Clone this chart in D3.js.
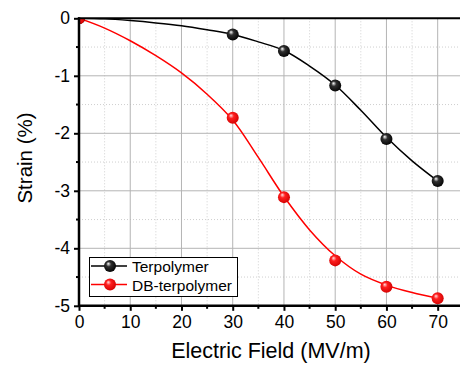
<!DOCTYPE html>
<html><head><meta charset="utf-8">
<script src="https://cdn.jsdelivr.net/npm/d3@7"></script>
<style>body{margin:0;background:#fff}svg{display:block}text{font-family:"Liberation Sans",Arial,sans-serif;fill:#000}</style>
</head><body>
<svg id="c" width="460" height="365"></svg>
<script>
const fieldX = [0, 30, 40, 50, 60, 70];
const terpolymer = [0, -0.28, -0.57, -1.17, -2.10, -2.83];
const dbTerpolymer = [0, -1.73, -3.11, -4.21, -4.67, -4.87];
const fitX = [0, 5, 10, 15, 20, 25, 30, 35, 40, 45, 50, 55, 60, 65, 70];
const terpFit = [0, -0.01, -0.04, -0.08, -0.13, -0.2, -0.28, -0.41, -0.56, -0.83, -1.16, -1.6, -2.07, -2.48, -2.83];
const dbFit = [0, -0.17, -0.39, -0.65, -0.95, -1.32, -1.77, -2.42, -3.1, -3.68, -4.13, -4.45, -4.64, -4.77, -4.87];
const xTicks = [0, 10, 20, 30, 40, 50, 60, 70];
const yTicks = [0, -1, -2, -3, -4, -5];
const seriesNames = ["Terpolymer", "DB-terpolymer"];

const svg = d3.select("#c");
const x = d3.scaleLinear().domain([0, 75]).range([79, 79 + 75 * 5.124]);
const y = d3.scaleLinear().domain([-5, 0]).range([305.8, 18.3]);
const L = 79, R = 462, T = 18.3, B = 305.8;

const defs = svg.append("defs");
function grad(id, c0, c1, c2) {
  const g = defs.append("radialGradient").attr("id", id).attr("cx", "45%").attr("cy", "45%").attr("r", "60%").attr("fx", "35%").attr("fy", "30%");
  g.append("stop").attr("offset", "0%").attr("stop-color", c0);
  g.append("stop").attr("offset", "35%").attr("stop-color", c1);
  g.append("stop").attr("offset", "100%").attr("stop-color", c2);
}
grad("gBlack", "#ffffff", "#303030", "#000000");
grad("gRed", "#ffe0e0", "#ff2020", "#d00000");
defs.append("clipPath").attr("id", "clip").append("rect").attr("x", L).attr("y", T).attr("width", R - L).attr("height", B - T);

// minor grid
const minorX = d3.range(5, 76, 10), minorY = d3.range(-4.5, 0, 1);
svg.append("g").selectAll("line").data(minorX).join("line")
  .attr("x1", d => x(d)).attr("x2", d => x(d)).attr("y1", T).attr("y2", B)
  .attr("stroke", "#cfcfcf").attr("stroke-dasharray", "1,2");
svg.append("g").selectAll("line").data(minorY).join("line")
  .attr("y1", d => y(d)).attr("y2", d => y(d)).attr("x1", L).attr("x2", R)
  .attr("stroke", "#cfcfcf").attr("stroke-dasharray", "1,2");
// major grid
svg.append("g").selectAll("line").data(xTicks.slice(1)).join("line")
  .attr("x1", d => x(d)).attr("x2", d => x(d)).attr("y1", T).attr("y2", B)
  .attr("stroke", "#b4b4b4").attr("stroke-width", 1);
svg.append("g").selectAll("line").data(yTicks.slice(1, -1)).join("line")
  .attr("y1", d => y(d)).attr("y2", d => y(d)).attr("x1", L).attr("x2", R)
  .attr("stroke", "#b4b4b4").attr("stroke-width", 1);

const plot = svg.append("g").attr("clip-path", "url(#clip)");
const line = d3.line().x(d => x(d[0])).y(d => y(d[1])).curve(d3.curveCatmullRom.alpha(0.5));
plot.append("path").datum(fitX.map((v, i) => [v, terpFit[i]])).attr("d", line)
  .attr("fill", "none").attr("stroke", "#000").attr("stroke-width", 1.5);
plot.append("path").datum(fitX.map((v, i) => [v, dbFit[i]])).attr("d", line)
  .attr("fill", "none").attr("stroke", "#ff0000").attr("stroke-width", 1.5);
plot.append("g").selectAll("circle").data(fieldX.map((v, i) => [v, terpolymer[i]])).join("circle")
  .attr("cx", d => x(d[0])).attr("cy", d => y(d[1])).attr("r", 6).attr("fill", "url(#gBlack)");
plot.append("g").selectAll("circle").data(fieldX.map((v, i) => [v, dbTerpolymer[i]])).join("circle")
  .attr("cx", d => x(d[0])).attr("cy", d => y(d[1])).attr("r", 6).attr("fill", "url(#gRed)");

// axes
const xAxis = svg.append("g").attr("transform", `translate(0,${B})`)
  .call(d3.axisBottom(x).tickValues(xTicks).tickSize(5).tickPadding(5).tickFormat(d3.format("d")));
const yAxis = svg.append("g").attr("transform", `translate(${L},0)`)
  .call(d3.axisLeft(y).tickValues(yTicks).tickSize(5).tickPadding(4).tickFormat(d => d === 0 ? "0" : "-" + Math.abs(d)));
[xAxis, yAxis].forEach(a => {
  a.select(".domain").remove();
  a.selectAll(".tick line").attr("stroke", "#000").attr("stroke-width", 2);
  a.selectAll("text").attr("font-size", 17.5).attr("font-family", "Liberation Sans, Arial, sans-serif");
});
// minor ticks
svg.append("g").selectAll("line").data(minorX).join("line")
  .attr("x1", d => x(d)).attr("x2", d => x(d)).attr("y1", B).attr("y2", B + 3)
  .attr("stroke", "#000").attr("stroke-width", 2);
svg.append("g").selectAll("line").data(minorY).join("line")
  .attr("y1", d => y(d)).attr("y2", d => y(d)).attr("x1", L).attr("x2", L - 3)
  .attr("stroke", "#000").attr("stroke-width", 2);
// frame lines
svg.append("line").attr("x1", L - 1).attr("x2", 460).attr("y1", T).attr("y2", T).attr("stroke", "#000").attr("stroke-width", 2);
svg.append("line").attr("x1", L - 1).attr("x2", 460).attr("y1", B).attr("y2", B).attr("stroke", "#000").attr("stroke-width", 2.5);
svg.append("line").attr("x1", L).attr("x2", L).attr("y1", T - 1).attr("y2", B + 1).attr("stroke", "#000").attr("stroke-width", 2.5);

// labels
svg.append("text").attr("x", 271).attr("y", 358).attr("text-anchor", "middle").attr("font-size", 21.5).text("Electric Field (MV/m)");
svg.append("text").attr("transform", "translate(32,158) rotate(-90)").attr("text-anchor", "middle").attr("font-size", 20.5).text("Strain (%)");

// legend
const lg = svg.append("g");
lg.append("rect").attr("x", 89.5).attr("y", 257.5).attr("width", 148).attr("height", 39).attr("fill", "#fff").attr("stroke", "#000").attr("stroke-width", 1);
const legendItems = [{name: seriesNames[0], color: "#000", fill: "url(#gBlack)"}, {name: seriesNames[1], color: "#ff0000", fill: "url(#gRed)"}];
legendItems.forEach((it, i) => {
  const yy = 266 + i * 18.5;
  lg.append("line").attr("x1", 91).attr("x2", 127).attr("y1", yy).attr("y2", yy).attr("stroke", it.color).attr("stroke-width", 1.5);
  lg.append("circle").attr("cx", 110).attr("cy", yy).attr("r", 6).attr("fill", it.fill);
  lg.append("text").attr("x", 132).attr("y", yy + 6).attr("font-size", 15.5).text(it.name);
});
</script>
</body></html>
